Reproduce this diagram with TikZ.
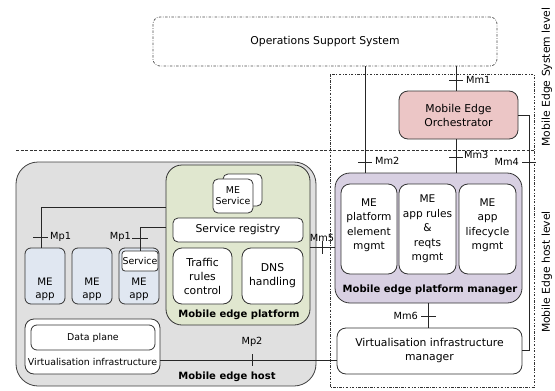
\documentclass[tikz,border=0pt]{standalone}
\usepackage{fontspec}
\setmainfont{DejaVu Sans}
\definecolor{bordc}{HTML}{333333}
\definecolor{hostgray}{HTML}{E0E0E0}
\definecolor{mepgreen}{HTML}{E0E7CF}
\definecolor{mepmpurple}{HTML}{D8D0E2}
\definecolor{meopink}{HTML}{ECC6C6}
\definecolor{appblue}{HTML}{E0E7F1}
\newcommand\mainfs{\fontsize{10.8}{14}\selectfont}
\newcommand\smallfs{\fontsize{9.4}{11}\selectfont}
\newcommand\boldfs{\fontsize{10}{12}\selectfont\bfseries}
\newcommand\ifs{\fontsize{9.8}{11}\selectfont}
\begin{document}
\begin{tikzpicture}[x=1pt,y=-1pt,
  box/.style={draw=bordc, line width=0.8pt, rounded corners=#1, inner sep=0pt, outer sep=0pt, align=center, font=\mainfs},
  box/.default=6pt,
  txt/.style={inner sep=0pt, align=center, font=\mainfs},
  btxt/.style={inner sep=0pt, align=center, font=\boldfs},
  ilbl/.style={inner sep=0pt, font=\ifs},
  conn/.style={draw=black!85, line width=0.8pt},
  tick/.style={draw=black!85, line width=0.8pt},
  dashdot/.style={dash pattern=on 2.5pt off 1.5pt on 0.7pt off 1.5pt, line width=0.7pt}
]
\useasboundingbox (0,0) rectangle (555,391);

% level separators
\draw[dashdot, draw=black!80] (330,74) rectangle (534,387);
\draw[dash pattern=on 3pt off 1.6pt, line width=1pt, draw=black!80] (16,150) -- (534,150);
\node[txt, rotate=90] (syslvl) at (547,77) {Mobile Edge System level};
\node[txt, rotate=90] (hostlvl) at (547,272) {Mobile Edge host level};

% OSS
\node[box=7pt, dashdot, draw=black!70, minimum width=344, minimum height=49] (oss) at (325,41.5) {Operations Support System};

% MEO
\node[box=9pt, fill=meopink, minimum width=119, minimum height=48] (meo) at (458.5,115) {Mobile Edge\\Orchestrator};

% Mobile edge host
\node[box=22pt, fill=hostgray, draw=black!75, minimum width=300, minimum height=224] (host) at (166,274) {};
\node[btxt] (hostlbl) at (227,377) {Mobile edge host};

% Mobile edge platform
\node[box=16pt, fill=mepgreen, minimum width=144, minimum height=160] (mep) at (238,245) {};
\node[btxt] (meplbl) at (239,315) {Mobile edge platform};
\node[box=5pt, fill=white, minimum width=39, minimum height=32] (svcback) at (242.5,190) {};
\node[box=5pt, fill=white, minimum width=40, minimum height=34, font=\smallfs] (svcfront) at (233,196) {ME\\Service};
\node[box=5pt, fill=white, minimum width=130, minimum height=24] (reg) at (238,230) {Service registry};
\node[box=9pt, fill=white, minimum width=59, minimum height=56] (traffic) at (202.5,276) {Traffic\\rules\\control};
\node[box=9pt, fill=white, minimum width=61, minimum height=56] (dns) at (272.5,276) {DNS\\handling};

% ME apps
\node[box=6pt, fill=appblue, minimum width=40, minimum height=56] (app1) at (45,276) {};
\node[box=6pt, fill=appblue, minimum width=40, minimum height=56] (app2) at (92,276) {};
\node[box=6pt, fill=appblue, minimum width=40, minimum height=56] (app3) at (139,276) {};
\node[txt, font=\fontsize{10.3}{13}\selectfont] (app1t) at (45,289) {ME\\app};
\node[txt, font=\fontsize{10.3}{13}\selectfont] (app2t) at (92,289) {ME\\app};
\node[txt, font=\fontsize{10.3}{13}\selectfont] (app3t) at (139,289) {ME\\app};
\node[box=3pt, fill=white, minimum width=36, minimum height=20, font=\smallfs] (svc) at (140,261) {Service};

% Virtualisation infrastructure
\node[box=9pt, fill=white, minimum width=135, minimum height=55] (vi) at (92.5,346.5) {};
\node[box=6pt, fill=white, minimum width=124, minimum height=25, font=\smallfs] (dp) at (93,337.5) {Data plane};
\node[txt, font=\smallfs] (vilbl) at (92.5,362) {Virtualisation infrastructure};

% Mobile edge platform manager
\node[box=15pt, fill=mepmpurple, minimum width=187, minimum height=130] (mepm) at (428.5,238) {};
\node[btxt] (mepmlbl) at (430,290) {Mobile edge platform manager};
\node[box=9pt, fill=white, minimum width=56, minimum height=90] (pem) at (369,229) {};
\node[box=9pt, fill=white, minimum width=57, minimum height=90] (arm) at (427.5,229) {};
\node[box=9pt, fill=white, minimum width=57, minimum height=90] (alm) at (487.5,229) {};
\node[txt, font=\fontsize{10.6}{14.5}\selectfont] (pemt) at (369,225) {ME\\platform\\element\\mgmt};
\node[txt, font=\fontsize{10.6}{14.5}\selectfont] (armt) at (427.5,229) {ME\\app rules\\\&\\reqts\\mgmt};
\node[txt, font=\fontsize{10.6}{14.5}\selectfont] (almt) at (487.5,225) {ME\\app\\lifecycle\\mgmt};

% VIM
\node[box=9pt, fill=white, minimum width=185, minimum height=46] (vim) at (429.5,351) {Virtualisation infrastructure\\manager};

% ---- connectors ----
\coordinate (mp1a) at (41,207);
\coordinate (mp1b) at (140,227);
\draw[conn] (mep.west |- mp1a) -- (mp1a) -- (app1.north -| mp1a);
\draw[tick] (33,237) -- (48,237);
\node[ilbl, anchor=west] (mp1al) at (50,236.5) {Mp1};
\draw[conn] (mep.west |- mp1b) -- (mp1b) -- (svc.north -| mp1b);
\draw[tick] (132,238) -- (148,238);
\node[ilbl, anchor=east] (mp1bl) at (131,236.5) {Mp1};

\coordinate (mm5) at (322,247);
\draw[conn] (mep.east |- mm5) -- (mepm.west |- mm5);
\draw[tick] (322,241) -- (322,254);
\node[ilbl] (mm5l) at (322,238) {Mm5};

\coordinate (mp2) at (252,360);
\draw[conn] (vi.east |- mp2) -- (vim.west |- mp2);
\draw[tick] (252,354) -- (252,366);
\node[ilbl] (mp2l) at (252,342) {Mp2};

\coordinate (mm2) at (365,162);
\draw[conn] (oss.south -| mm2) -- (mepm.north -| mm2);
\draw[tick] (358,162) -- (372,162);
\node[ilbl, anchor=west] (mm2l) at (375,161) {Mm2};

\coordinate (mm1) at (456,80);
\draw[conn] (oss.south -| mm1) -- (meo.north -| mm1);
\draw[tick] (449,80) -- (463,80);
\node[ilbl, anchor=west] (mm1l) at (466,79.5) {Mm1};

\coordinate (mm3) at (456,157);
\draw[conn] (meo.south -| mm3) -- (mepm.north -| mm3);
\draw[tick] (449,157) -- (463,157);
\node[ilbl, anchor=west] (mm3l) at (464,155) {Mm3};

\coordinate (mm4a) at (529,115);
\coordinate (mm4b) at (529,350);
\draw[conn] (meo.east |- mm4a) -- (mm4a) -- (mm4b) -- (vim.east |- mm4b);
\draw[tick] (522,162) -- (536,162);
\node[ilbl, anchor=east] (mm4l) at (519,162) {Mm4};

\coordinate (mm6) at (428,316);
\draw[conn] (mepm.south -| mm6) -- (vim.north -| mm6);
\draw[tick] (421,316) -- (436,316);
\node[ilbl, anchor=east] (mm6l) at (418,316) {Mm6};
\end{tikzpicture}
\end{document}
